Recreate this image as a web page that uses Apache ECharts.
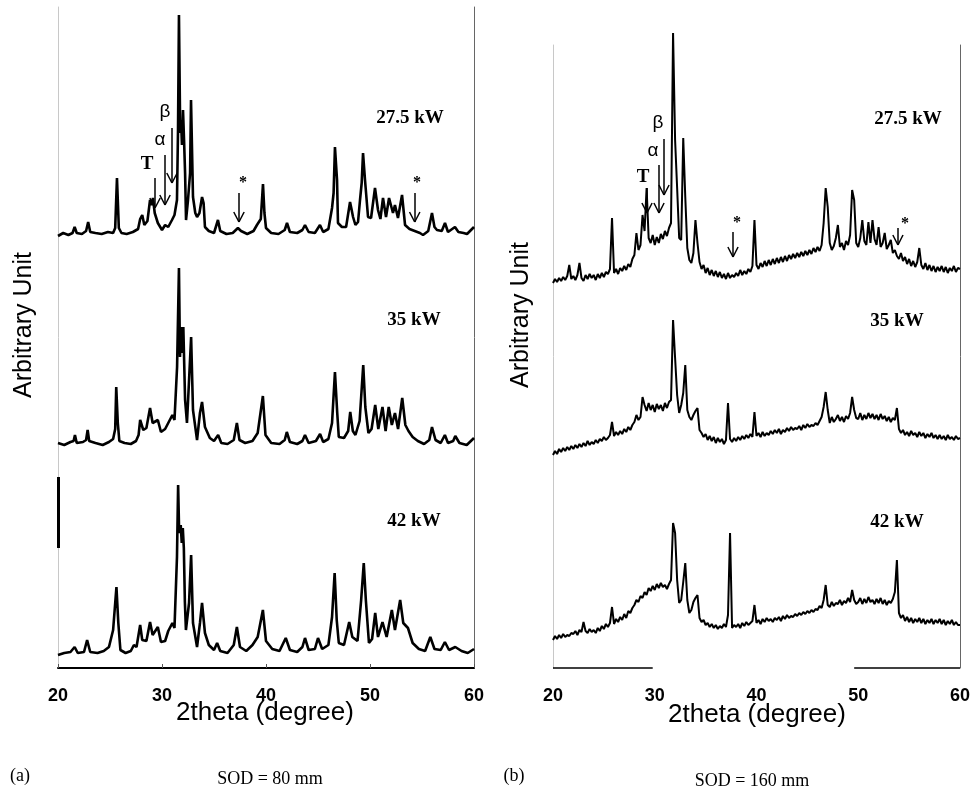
<!DOCTYPE html>
<html>
<head>
<meta charset="utf-8">
<script src="https://cdn.jsdelivr.net/npm/echarts@6/dist/echarts.min.js"></script>
<style>
html, body { margin: 0; padding: 0; background: #fff; }
#main { width: 973px; height: 794px; }
</style>
</head>
<body>
<div id="main"></div>
<script>
// (a) SOD = 80 mm : [2theta, intensity above own baseline]
const a275 = [[20.0,-3],[20.5,0],[21.0,-2],[21.4,0],[21.6,6],[21.8,0],[22.3,-1],[22.7,2],[22.9,11],[23.1,1],[23.6,0],[24.2,-1],[24.8,1],[25.3,0],[25.5,5],[25.67,55],[25.85,5],[26.1,0],[26.6,-1],[27.2,1],[27.7,4],[27.9,14],[28.1,18],[28.3,8],[28.6,12],[28.85,33],[29.0,28],[29.13,35],[29.3,20],[29.6,10],[30.0,3],[30.3,8],[30.6,6],[30.96,13],[31.2,18],[31.44,33],[31.54,103],[31.63,218],[31.75,100],[31.83,113],[31.92,88],[32.02,123],[32.12,93],[32.22,60],[32.31,13],[32.5,33],[32.7,60],[32.79,133],[32.88,135],[32.98,36],[33.2,20],[33.37,16],[33.6,20],[33.85,36],[34.0,30],[34.13,6],[34.5,2],[35.0,0],[35.38,13],[35.6,2],[36.2,-1],[36.8,0],[37.3,5],[37.6,2],[38.2,-1],[38.8,2],[39.13,8],[39.5,14],[39.71,49],[39.85,20],[40.0,5],[40.5,0],[41.2,-1],[41.8,3],[42.02,10],[42.3,1],[43.0,0],[43.5,3],[43.75,8],[44.1,1],[44.7,0],[45.19,8],[45.5,1],[46.0,4],[46.35,25],[46.5,40],[46.63,86],[46.83,53],[46.92,10],[47.3,6],[47.7,6],[48.08,31],[48.2,25],[48.37,16],[48.6,8],[48.85,11],[49.04,33],[49.2,50],[49.33,80],[49.52,53],[49.81,16],[50.1,15],[50.48,45],[50.77,23],[51.0,14],[51.25,35],[51.54,16],[51.83,35],[52.21,20],[52.4,28],[52.69,15],[53.08,38],[53.37,8],[53.8,4],[54.3,2],[54.8,0],[55.1,-2],[55.6,2],[55.96,20],[56.2,6],[56.44,3],[56.9,2],[57.21,10],[57.5,1],[58.17,6],[58.5,1],[59.0,0],[59.33,-1],[60.0,6]];
const a35 = [[20.0,0],[20.6,-2],[21.2,1],[21.5,2],[21.63,8],[21.8,0],[22.4,1],[22.7,3],[22.85,13],[23.0,2],[23.6,0],[24.3,-2],[24.9,1],[25.3,4],[25.5,14],[25.6,56],[25.75,20],[25.9,2],[26.4,0],[27.0,-1],[27.5,2],[27.75,8],[27.9,23],[28.2,13],[28.5,15],[28.85,35],[29.1,20],[29.6,23],[29.9,11],[30.3,14],[30.6,20],[31.0,28],[31.2,23],[31.45,76],[31.63,175],[31.73,86],[31.83,116],[31.95,90],[32.05,116],[32.12,86],[32.22,43],[32.4,20],[32.5,41],[32.8,106],[32.98,33],[33.37,3],[33.65,30],[33.85,41],[34.13,16],[34.6,5],[35.0,2],[35.4,8],[35.7,0],[36.3,-1],[36.9,3],[37.2,20],[37.45,3],[38.0,0],[38.7,2],[39.2,10],[39.7,47],[39.95,8],[40.5,0],[41.3,-1],[41.8,3],[42.0,11],[42.3,1],[43.0,-1],[43.5,2],[43.75,8],[44.1,0],[44.8,2],[45.2,9],[45.5,1],[46.0,4],[46.35,20],[46.63,71],[46.85,30],[47.0,6],[47.5,5],[47.9,12],[48.1,31],[48.35,12],[48.6,8],[49.0,22],[49.35,78],[49.55,36],[49.85,10],[50.15,14],[50.5,38],[50.8,14],[51.2,36],[51.5,12],[51.8,36],[52.1,18],[52.4,30],[52.7,14],[53.1,45],[53.4,18],[53.7,12],[54.1,6],[54.6,2],[55.2,-1],[55.7,3],[55.96,16],[56.3,3],[56.8,0],[57.2,8],[57.5,0],[58.0,2],[58.2,7],[58.6,0],[59.3,-2],[60.0,5]];
const a42 = [[20.0,-2],[20.6,0],[21.2,1],[21.6,6],[21.9,0],[22.5,1],[22.8,13],[23.1,1],[23.8,0],[24.4,2],[24.9,6],[25.3,23],[25.5,50],[25.62,66],[25.8,30],[26.0,3],[26.5,0],[27.0,2],[27.3,8],[27.55,6],[27.9,28],[28.1,13],[28.5,12],[28.85,31],[29.1,18],[29.6,26],[29.9,11],[30.3,12],[30.6,22],[31.0,30],[31.2,25],[31.44,96],[31.55,168],[31.65,120],[31.8,128],[31.9,110],[32.0,125],[32.1,105],[32.2,51],[32.3,23],[32.6,50],[32.8,98],[32.98,30],[33.37,6],[33.65,30],[33.85,50],[34.13,20],[34.5,8],[35.0,3],[35.3,10],[35.6,2],[36.3,0],[36.9,8],[37.2,26],[37.5,6],[38.1,2],[38.7,8],[39.2,16],[39.7,43],[40.0,12],[40.6,4],[41.3,2],[41.9,15],[42.3,3],[43.0,1],[43.5,6],[43.75,15],[44.1,3],[44.7,4],[45.0,15],[45.4,4],[46.0,8],[46.35,36],[46.6,80],[46.8,33],[47.0,10],[47.5,8],[48.0,31],[48.3,16],[48.8,12],[49.15,53],[49.4,90],[49.6,53],[49.9,10],[50.2,14],[50.5,40],[50.77,16],[51.2,31],[51.6,16],[52.1,43],[52.4,23],[52.9,53],[53.2,30],[53.65,25],[54.1,10],[54.7,4],[55.3,2],[55.8,16],[56.2,4],[56.8,3],[57.2,11],[57.6,3],[58.2,6],[58.8,2],[59.4,0],[60.0,4]];

// (b) SOD = 160 mm : scan 20-60 deg, step 0.2
const scanStart = 20, scanStep = 0.2;
const b275 = [0,4,1,5,2,6,3,7,18,4, 7,3,8,20,5,2,8,4,9,5, 8,3,9,5,10,6,11,9,14,65, 10,14,9,15,12,17,13,19,16,24,
  28,50,33,38,68,52,95,45,40,48, 38,46,40,49,44,52,47,55,60,250, 143,95,45,43,145,86,35,23,20,30, 63,40,21,14,18,10,15,8,13,7,
  12,6,11,5,9,4,10,5,8,6, 10,7,13,8,12,9,14,11,17,63, 18,14,20,16,22,17,23,18,24,19, 25,20,26,21,27,22,28,24,29,25,
  30,26,31,27,32,28,33,29,35,31, 36,32,38,60,95,76,40,33,37,45, 58,36,40,33,42,38,48,93,83,40, 36,45,63,42,38,61,40,63,44,38,
  56,36,40,50,34,38,43,30,33,27, 24,30,22,26,19,24,17,22,16,21, 35,18,14,20,13,18,12,17,11,16, 12,17,11,16,10,15,12,17,11,15, 14];
const b35 = [0,4,1,6,3,7,4,8,5,9, 6,10,7,11,8,12,9,14,10,13, 11,15,12,16,14,18,15,17,20,33, 19,23,20,24,21,26,23,28,25,30,
  33,40,35,38,58,50,44,52,45,50, 43,51,46,50,44,52,47,53,55,135, 97,60,42,50,62,90,45,38,35,40, 44,47,25,22,18,21,15,19,14,18,
  12,17,13,16,11,15,52,16,13,17, 14,18,15,19,16,20,17,21,18,43, 19,22,18,23,19,22,20,24,21,25, 22,26,21,25,23,27,24,28,25,27,
  26,29,25,30,27,31,28,30,29,32, 30,34,38,48,63,45,32,38,33,36, 40,34,38,33,39,36,42,58,45,37, 36,42,35,40,36,42,37,41,36,40,
  35,41,36,39,34,38,33,37,35,47, 26,22,25,20,23,19,24,20,22,18, 23,19,22,17,21,18,22,17,20,16, 20,16,19,15,20,16,18,15,19,16, 17];
const b42 = [0,4,1,5,2,6,3,5,4,7, 6,9,5,10,8,18,9,7,11,8, 10,7,12,9,14,11,16,13,17,33, 16,21,18,23,20,26,22,29,27,32,
  35,40,38,44,42,48,45,52,49,54, 50,56,52,57,53,55,51,56,60,117, 107,60,37,40,58,77,40,27,30,38, 42,45,22,18,20,15,17,13,16,12,
  15,11,14,12,16,13,25,107,12,15, 13,16,12,17,14,18,15,17,19,35, 17,20,16,21,18,22,19,21,18,22, 20,23,19,24,21,25,22,24,23,26,
  24,27,25,28,26,29,27,30,28,31, 30,34,32,40,55,35,33,38,34,37, 36,40,35,39,37,42,38,50,40,36, 38,42,36,41,37,43,38,40,36,41,
  37,42,36,40,35,39,37,41,48,80, 27,22,25,19,23,18,22,17,21,18, 22,17,21,16,20,17,21,16,20,17, 21,16,20,15,19,16,20,15,18,15, 15];

const offsetsA = [435, 225, 15];
const offsetsB = [385, 213, 28];
const powers = ['27.5 kW', '35 kW', '42 kW'];

// phase arrows [2theta, from, to] and their labels [text, 2theta, y]
const arrowsA = [[29.33, 490, 460], [30.29, 513, 463], [30.96, 540, 485], [37.4, 475, 446], [54.3, 475, 446]];
const marksA = [['T', 28.56, 504], ['α', 29.81, 528], ['β', 30.29, 556], ['*', 37.79, 485], ['*', 54.52, 485]];
const arrowsB = [[29.24, 480, 455], [30.42, 503, 455], [30.91, 529, 473], [37.69, 436, 411], [53.9, 440, 423]];
const marksB = [['T', 28.85, 491], ['α', 29.83, 517], ['β', 30.32, 545], ['*', 38.08, 445], ['*', 54.6, 444]];

let myChart = echarts.init(document.getElementById('main'))

function arrowLines (arrows) {
  let out = []
  arrows.forEach(function (a) {
    out.push([{ coord: [a[0], a[1]] }, { coord: [a[0], a[2]] }])
    out.push([{ coord: [a[0] - 0.5, a[2] + 10] }, { coord: [a[0], a[2]] }])
    out.push([{ coord: [a[0] + 0.5, a[2] + 10] }, { coord: [a[0], a[2]] }])
  })
  return out
}

function markLabels (marks) {
  return marks.map(function (m) {
    let greek = m[0] === 'α' || m[0] === 'β'
    return {
      name: m[0],
      coord: [m[1], m[2]],
      label: {
        fontFamily: greek ? 'Liberation Sans' : 'Liberation Serif',
        fontWeight: greek ? 'normal' : 'bold',
        fontSize: m[0] === '*' ? 16 : 19
      }
    }
  })
}

function xAxisOf (gridIndex, showLine) {
  return {
    type: 'value', gridIndex: gridIndex, min: 20, max: 60, interval: 10,
    splitLine: { show: false },
    axisLine: { show: showLine, onZero: false, lineStyle: { color: '#000', width: 2 } },
    axisTick: { show: showLine, inside: true, length: 4, lineStyle: { color: '#555' } },
    axisLabel: { margin: 19, color: '#000', fontFamily: 'Liberation Sans', fontWeight: 'bold', fontSize: 18 }
  }
}

function yAxesOf (gridIndex, max) {
  return [{
    type: 'value', gridIndex: gridIndex, min: 0, max: max, position: 'left',
    axisLine: { show: true, lineStyle: { color: '#c8c8c8', width: 1 } },
    axisTick: { show: false }, axisLabel: { show: false }, splitLine: { show: false }
  }, {
    type: 'value', gridIndex: gridIndex, min: 0, max: max, position: 'right',
    axisLine: { show: true, lineStyle: { color: '#666', width: 1 } },
    axisTick: { show: false }, axisLabel: { show: false }, splitLine: { show: false }
  }]
}

function trace (data, xi, yi, width) {
  return {
    type: 'line', xAxisIndex: xi, yAxisIndex: yi, data: data,
    showSymbol: false, silent: true, clip: false,
    lineStyle: { color: '#000', width: width }
  }
}

let seriesA = [a275, a35, a42].map(function (arr, k) {
  return trace(arr.map(function (p) { return [p[0], p[1] + offsetsA[k]] }), 0, 0, 2.6)
})
let seriesB = [b275, b35, b42].map(function (arr, k) {
  return trace(arr.map(function (v, i) { return [+(scanStart + i * scanStep).toFixed(1), v + offsetsB[k]] }), 1, 2, 2)
})

let markLineStyle = { symbol: 'none', silent: true, label: { show: false }, animation: false }
let markPointStyle = {
  symbol: 'circle', symbolSize: 1, silent: true, itemStyle: { color: 'rgba(0,0,0,0)' },
  label: { show: true, position: 'inside', formatter: '{b}', color: '#000' }
}

seriesA[0].markLine = Object.assign({ lineStyle: { color: '#000', width: 1.5, type: 'solid' }, data: arrowLines(arrowsA) }, markLineStyle)
seriesA[0].markPoint = Object.assign({ data: markLabels(marksA) }, markPointStyle)
// dark scan mark on the left edge of the lowest trace
seriesA[2].markLine = Object.assign({ lineStyle: { color: '#000', width: 3, type: 'solid' }, data: [[{ coord: [20, 120] }, { coord: [20, 191] }]] }, markLineStyle)

seriesB[0].markLine = Object.assign({ lineStyle: { color: '#000', width: 1.5, type: 'solid' }, data: arrowLines(arrowsB) }, markLineStyle)
seriesB[0].markPoint = Object.assign({ data: markLabels(marksB) }, markPointStyle)
// broken bottom axis of panel (b)
seriesB[2].markLine = Object.assign({ lineStyle: { color: '#000', width: 1.5, type: 'solid' }, data: [[{ coord: [20, 0] }, { coord: [29.8, 0] }], [{ coord: [49.6, 0] }, { coord: [60, 0] }]] }, markLineStyle)

function txt (text, x, y, font, rot) {
  return {
    type: 'text', x: x, y: y, rotation: rot || 0, silent: true,
    style: { text: text, font: font, fill: '#000', textAlign: 'center', textVerticalAlign: 'middle' }
  }
}

let powerFont = 'bold 19px "Liberation Serif"'
let graphics = [
  txt(powers[0], 410, 118, powerFont), txt(powers[1], 414, 320, powerFont), txt(powers[2], 414, 521, powerFont),
  txt(powers[0], 908, 119, powerFont), txt(powers[1], 897, 321, powerFont), txt(powers[2], 897, 522, powerFont),
  txt('Arbitrary Unit', 24, 325, '25px "Liberation Sans"', Math.PI / 2),
  txt('Arbitrary Unit', 521, 315, '25px "Liberation Sans"', Math.PI / 2),
  txt('2theta (degree)', 265, 713, '26px "Liberation Sans"'),
  txt('2theta (degree)', 757, 715, '26px "Liberation Sans"'),
  txt('(a)', 20, 776, '18px "Liberation Serif"'),
  txt('SOD = 80 mm', 270, 779, '18px "Liberation Serif"'),
  txt('(b)', 514, 776, '18px "Liberation Serif"'),
  txt('SOD = 160 mm', 752, 781, '18px "Liberation Serif"')
]

let option = {
  animation: false,
  backgroundColor: '#fff',
  grid: [
    { left: 58, right: 499, top: 7, bottom: 126 },
    { left: 553, right: 13, top: 45, bottom: 126 }
  ],
  xAxis: [xAxisOf(0, true), xAxisOf(1, false)],
  yAxis: yAxesOf(0, 661).concat(yAxesOf(1, 623)),
  series: seriesA.concat(seriesB),
  graphic: graphics
}
myChart.setOption(option, true)
</script>
</body>
</html>
